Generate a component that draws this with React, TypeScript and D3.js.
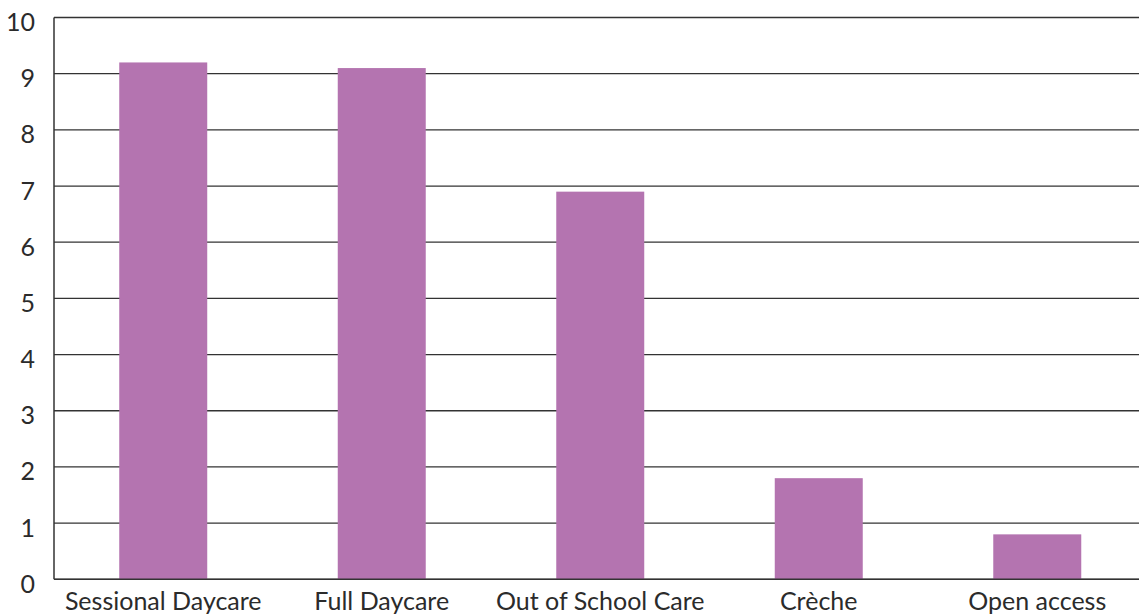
import React from "react";
import * as d3 from "d3";

const categories = ["Sessional Daycare", "Full Daycare", "Out of School Care", "Crèche", "Open access"];
const values = [9.2, 9.1, 6.9, 1.8, 0.8];
const yTicks = [0, 1, 2, 3, 4, 5, 6, 7, 8, 9, 10];

const W = 1139;
const H = 616;
// the plot area runs slightly past the right edge of the canvas, so gridlines are cut off there
const plotRight = 1146.5;
const margin = { top: 17.5, bottom: 36.7, left: 54 };
const FONT = "Lato, 'Open Sans', sans-serif";

export default function App() {
  const x = d3
    .scaleBand<string>()
    .domain(categories)
    .range([margin.left, plotRight])
    .paddingInner(0.5973)
    .paddingOuter(0.2986);
  const y = d3.scaleLinear().domain([0, 10]).range([H - margin.bottom, margin.top]);

  return (
    <svg
      width={W}
      height={H}
      style={{ position: "absolute", left: 0, top: 0, background: "#fff" }}
      fontFamily={FONT}
    >
      {yTicks.map((t) => (
        <g key={t}>
          <line x1={margin.left} x2={plotRight} y1={y(t)} y2={y(t)} stroke="#333" strokeWidth={1.3} />
          <text x={35} y={y(t) + 13.5} textAnchor="end" fontSize={25} fill="#2b2b2b">
            {t}
          </text>
        </g>
      ))}
      {categories.map((c, i) => (
        <rect
          key={c}
          x={x(c)}
          y={y(values[i])}
          width={x.bandwidth()}
          height={y(0) - y(values[i])}
          fill="#b474b0"
        />
      ))}
      <line x1={margin.left} x2={margin.left} y1={y(10)} y2={y(0)} stroke="#333" strokeWidth={1.5} />
      <line x1={margin.left} x2={plotRight} y1={y(0)} y2={y(0)} stroke="#333" strokeWidth={1.5} />
      {categories.map((c) => (
        <text
          key={c}
          x={(x(c) as number) + x.bandwidth() / 2}
          y={H - 6}
          textAnchor="middle"
          fontSize={25}
          fill="#2b2b2b"
        >
          {c}
        </text>
      ))}
    </svg>
  );
}
